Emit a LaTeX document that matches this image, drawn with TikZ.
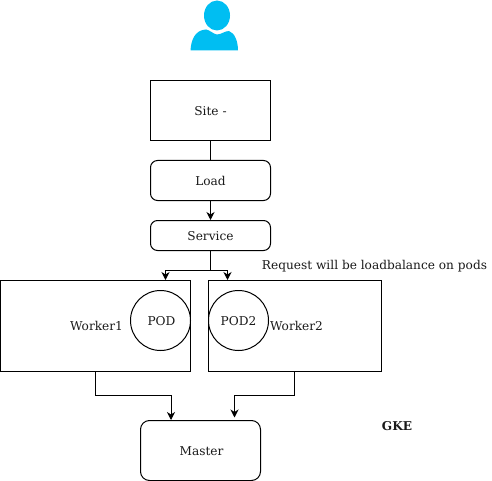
\documentclass[tikz,border=0pt]{standalone}
\usepackage{fontspec}
\setmainfont{DejaVu Serif}
\usetikzlibrary{arrows.meta}
\definecolor{personblue}{HTML}{00BEF2}
\tikzset{
  every node/.style={font=\fontsize{12.15}{14}\selectfont,text=black!90},
  sized/.style={text height=11pt,text depth=1pt},
  sqbox/.style={draw=black,line width=1pt,minimum width=#1,inner sep=0pt,sized},
  rbox/.style={draw=black,line width=1pt,rounded corners=7pt,inner sep=0pt,sized},
  podc/.style={draw=black,line width=1pt,circle,minimum size=60pt,inner sep=0pt,sized},
  conn/.style={draw=black,line width=1pt},
  arr/.style={conn,-{Stealth[length=8pt,width=8pt,inset=2.5pt]}},
  plain/.style={inner sep=0pt}
}
\newcommand{\nudge}{\hspace*{2pt}}
\begin{document}
\begin{tikzpicture}[x=1pt,y=-1pt]
\useasboundingbox (0,0) rectangle (492,481);
% person
\fill[personblue] (217,15.5) ellipse [x radius=13,y radius=15];
\fill[personblue] (190.5,50.5) .. controls (191,40) and (195,30) .. (206,29.5)
  .. controls (210,30) and (213,34) .. (217,34.5)
  .. controls (221,34.5) and (225,31) .. (229,31)
  .. controls (235,33) and (238,42) .. (238,50.5) -- cycle;
\node[sqbox=120pt,minimum height=60pt] (site) at (210.5,110.5) {Site -};
\node[rbox,minimum width=120pt,minimum height=40pt] (load) at (210.5,180.5) {Load};
\node[rbox,minimum width=120pt,minimum height=30pt] (service) at (210.5,235.5) {Service};
\node[sqbox=190pt,minimum height=91pt] (w1) at (95.5,325.5) {\nudge Worker1};
\node[sqbox=173pt,minimum height=91pt] (w2) at (294.5,325.5) {\nudge\nudge Worker2};
\node[rbox,minimum width=120pt,minimum height=60pt,rounded corners=9pt] (master) at (200.5,450.5) {\nudge Master};
\node[podc] (pod) at (160.5,320.5) {\nudge POD};
\node[podc] (pod2) at (238.5,320.5) {POD2};
\node[plain] (req) at (374.5,266) {Request will be loadbalance on pods};
\node[plain,font=\fontsize{12.15}{14}\selectfont\bfseries] (gke) at (397,426.5) {GKE};
\coordinate (w1in) at (165.5,280);
\coordinate (w2in) at (227.5,280);
\coordinate (m1) at (171,420);
\coordinate (m2) at (234.5,417.5);
\draw[conn] (site) -- (load);
\draw[arr] (load) -- (service);
\draw[arr] (service.south) -- ++(0,19.5) -| (w1in);
\draw[arr] (service.south) -- ++(0,19.5) -| (w2in);
\draw[arr] (w1.south) -- ++(0,24) -| (m1);
\draw[arr] (w2.south) -- ++(0,24) -| (m2);
\end{tikzpicture}
\end{document}
